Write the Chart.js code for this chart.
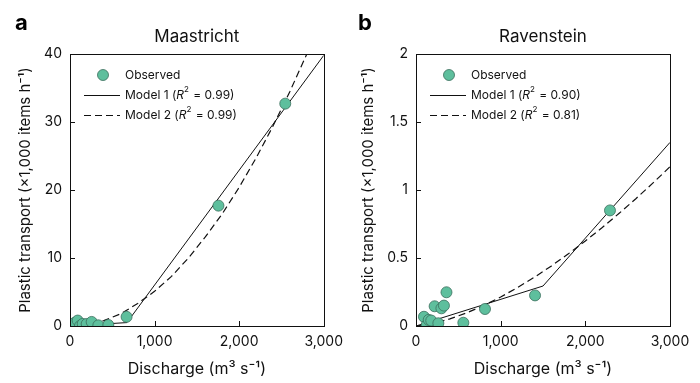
<!DOCTYPE html>
<html>
<head>
<meta charset="utf-8">
<script src="https://cdn.jsdelivr.net/npm/chart.js@4"></script>
<style>
  html, body { margin: 0; padding: 0; background: #fff; }
  #wrap { width: 700px; height: 383px; position: relative; }
  .box { position: absolute; top: 0; width: 350px; height: 383px; }
</style>
</head>
<body>
<div id="wrap">
  <div class="box" style="left:0"><canvas id="chartA"></canvas></div>
  <div class="box" style="left:350px"><canvas id="chartB"></canvas></div>
</div>
<script>
// Maastricht
const maasQ   = [20, 40, 59, 91, 118, 150, 197, 256, 335, 453, 669, 1755, 2545];
const maasObs = [0.2, 0.1, 0.5, 0.8, 0.0, 0.3, 0.3, 0.6, 0.1, 0.15, 1.35, 17.7, 32.7];
const maasM1Q = [0, 673, 3000];
const maasM1  = [0, 0.5, 39.8];
const maasM2Q = [0, 200, 400, 600, 800, 1000, 1200, 1400, 1600, 1800, 2000, 2200, 2400, 2600, 2800, 2850];
const maasM2  = [0, 0.2, 0.8, 1.8, 3.3, 5.1, 7.3, 10.0, 13.1, 16.5, 20.4, 24.7, 29.4, 34.5, 40.0, 41.4];
const maasR2  = ["0.99", "0.99"];

// Ravenstein
const ravQ   = [94, 126, 150, 180, 220, 264, 300, 330, 360, 559, 815, 1406, 2291];
const ravObs = [0.068, 0.007, 0.045, 0.04, 0.145, 0.02, 0.13, 0.15, 0.248, 0.024, 0.125, 0.225, 0.85];
const ravM1Q = [0, 1500, 3000];
const ravM1  = [0, 0.294, 1.35];
const ravM2Q = [0, 200, 400, 600, 800, 1000, 1200, 1400, 1600, 1800, 2000, 2200, 2400, 2600, 2800, 3000];
const ravM2  = [0, 0.018, 0.052, 0.097, 0.151, 0.213, 0.283, 0.359, 0.442, 0.531, 0.625, 0.724, 0.829, 0.938, 1.052, 1.171];
const ravR2  = ["0.90", "0.81"];

const xTicks = [0, 1000, 2000, 3000];
const legendNames = ["Observed", "Model 1", "Model 2"];

const FONT = "Inter, 'Noto Sans', sans-serif";
const fillCol = "#5ebf9d";
const edgeCol = "#3b6e5d";
const DASH = [7, 4];

function pts(xs, ys) {
  return xs.map((x, i) => ({ x: x, y: ys[i] }));
}

const framePlugin = {
  id: "frame",
  afterDraw(chart) {
    const ctx = chart.ctx;
    const a = chart.chartArea;
    const o = chart.options.plugins.frame;
    ctx.save();
    ctx.strokeStyle = "#111";
    ctx.lineWidth = 1;
    ctx.strokeRect(Math.round(a.left) + 0.5, Math.round(a.top) + 0.5,
                   Math.round(a.right - a.left), Math.round(a.bottom - a.top));
    // inward ticks
    const xs = chart.scales.x, ys = chart.scales.y;
    ctx.beginPath();
    xs.ticks.forEach(t => {
      const px = Math.round(xs.getPixelForValue(t.value)) + 0.5;
      ctx.moveTo(px, a.bottom); ctx.lineTo(px, a.bottom - 5);
    });
    ys.ticks.forEach(t => {
      const py = Math.round(ys.getPixelForValue(t.value)) + 0.5;
      ctx.moveTo(a.left, py); ctx.lineTo(a.left + 5, py);
    });
    ctx.stroke();

    // panel letter and title
    ctx.fillStyle = "#000";
    ctx.font = "bold 22px " + FONT;
    ctx.textBaseline = "alphabetic";
    ctx.fillText(o.letter, o.letterX, 30);
    ctx.fillStyle = "#111";
    ctx.font = "17px " + FONT;
    ctx.textAlign = "center";
    ctx.textBaseline = "middle";
    ctx.fillText(o.title, (a.left + a.right) / 2, 37);
    ctx.textAlign = "left";

    // legend
    const lx = a.left;
    ctx.font = "12px " + FONT;
    ctx.beginPath();
    ctx.arc(lx + 33, a.top + 21, 5.5, 0, Math.PI * 2);
    ctx.fillStyle = fillCol; ctx.fill();
    ctx.strokeStyle = edgeCol; ctx.lineWidth = 0.8; ctx.stroke();
    ctx.fillStyle = "#111";
    ctx.fillText(legendNames[0], lx + 55, a.top + 21);

    [0, 1].forEach(k => {
      const y = a.top + 41 + k * 20;
      ctx.beginPath();
      ctx.strokeStyle = "#111";
      ctx.lineWidth = k === 0 ? 1 : 1.2;
      ctx.setLineDash(k === 0 ? [] : DASH);
      ctx.moveTo(lx + 14, y + 0.5); ctx.lineTo(lx + 50, y + 0.5);
      ctx.stroke();
      ctx.setLineDash([]);
      let x = lx + 55;
      ctx.font = "12px " + FONT;
      const s1 = legendNames[k + 1] + " (";
      ctx.fillText(s1, x, y); x += ctx.measureText(s1).width;
      ctx.font = "italic 12px " + FONT;
      ctx.fillText("R", x, y); x += ctx.measureText("R").width;
      ctx.font = "8px " + FONT;
      ctx.fillText("2", x, y - 5); x += ctx.measureText("2").width + 1;
      ctx.font = "12px " + FONT;
      ctx.fillText(" = " + o.r2[k] + ")", x, y);
    });
    ctx.restore();
  }
};

function makeChart(id, cfg) {
  return new Chart(document.getElementById(id), {
    type: "scatter",
    data: {
      datasets: [
        {
          label: legendNames[0],
          data: pts(cfg.q, cfg.obs),
          backgroundColor: fillCol,
          borderColor: edgeCol,
          borderWidth: 0.8,
          pointRadius: 5.5,
          order: 0
        },
        {
          label: legendNames[1],
          data: pts(cfg.m1q, cfg.m1),
          showLine: true,
          borderColor: "#111",
          borderWidth: 1,
          pointRadius: 0,
          order: 2
        },
        {
          label: legendNames[2],
          data: pts(cfg.m2q, cfg.m2),
          showLine: true,
          borderColor: "#111",
          borderWidth: 1.2,
          borderDash: DASH,
          pointRadius: 0,
          order: 1
        }
      ]
    },
    options: {
      responsive: false,
      animation: false,
      layout: { padding: { left: 0, right: cfg.padRight, top: 54, bottom: 0 } },
      plugins: {
        legend: { display: false },
        tooltip: { enabled: false },
        title: { display: false },
        frame: { letter: cfg.letter, letterX: cfg.letterX, r2: cfg.r2, title: cfg.title }
      },
      scales: {
        x: {
          type: "linear",
          min: 0, max: 3000,
          afterBuildTicks: s => { s.ticks = xTicks.map(v => ({ value: v })); },
          afterFit: s => { s.height = 57; },
          grid: { display: false, drawTicks: false },
          border: { display: false },
          ticks: {
            color: "#111",
            padding: 7,
            font: { family: FONT, size: 14 },
            callback: v => v.toLocaleString("en-US")
          },
          title: {
            display: true,
            text: "Discharge (m³ s⁻¹)",
            color: "#111",
            font: { family: FONT, size: 16 },
            padding: { top: 0, bottom: 4 }
          }
        },
        y: {
          min: 0, max: cfg.yMax,
          afterBuildTicks: s => { s.ticks = cfg.yTicks.map(v => ({ value: v })); },
          afterFit: s => { s.width = cfg.yWidth; },
          grid: { display: false, drawTicks: false },
          border: { display: false },
          ticks: {
            color: "#111",
            padding: 8,
            font: { family: FONT, size: 14 },
            callback: v => String(v)
          },
          title: {
            display: true,
            text: "Plastic transport (×1,000 items h⁻¹)",
            color: "#111",
            font: { family: FONT, size: 15 },
            padding: { top: cfg.yTitlePad, bottom: 0 }
          }
        }
      }
    },
    plugins: [framePlugin]
  });
}

const canvA = document.getElementById("chartA");
canvA.width = 350; canvA.height = 383;
const canvB = document.getElementById("chartB");
canvB.width = 350; canvB.height = 383;

makeChart("chartA", {
  title: "Maastricht", letter: "a", letterX: 15, r2: maasR2,
  q: maasQ, obs: maasObs, m1q: maasM1Q, m1: maasM1, m2q: maasM2Q, m2: maasM2,
  yMax: 40, yTicks: [0, 10, 20, 30, 40], yWidth: 70, padRight: 26, yTitlePad: 16
});
makeChart("chartB", {
  title: "Ravenstein", letter: "b", letterX: 8, r2: ravR2,
  q: ravQ, obs: ravObs, m1q: ravM1Q, m1: ravM1, m2q: ravM2Q, m2: ravM2,
  yMax: 2, yTicks: [0, 0.5, 1, 1.5, 2], yWidth: 66, padRight: 30, yTitlePad: 9
});
</script>
</body>
</html>
